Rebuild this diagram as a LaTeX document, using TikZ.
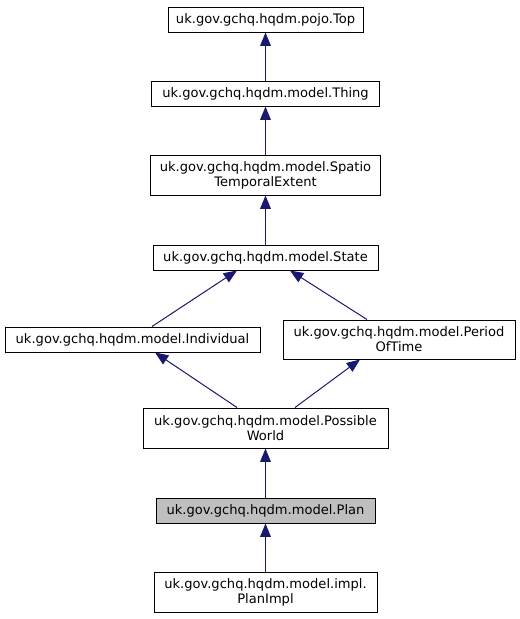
\documentclass[tikz,border=0pt]{standalone}
\usepackage{fontspec}
\setmainfont{DejaVu Sans}
\usetikzlibrary{calc,arrows.meta}
\definecolor{edgeblue}{RGB}{25,25,112}
\definecolor{hlgray}{RGB}{191,191,191}
\tikzset{
  cls/.style={draw=black, line width=0.75pt, fill=white, inner sep=0pt, align=center,
    font=\fontsize{9.8pt}{11.4pt}\selectfont},
  inh/.style={draw=edgeblue, line width=0.75pt,
    -{Triangle[length=10pt,width=8pt,fill=edgeblue]}}
}
\begin{document}
\begin{tikzpicture}[x=0.75pt,y=-0.75pt]
\useasboundingbox (0,0) rectangle (520,619);
\node[cls, minimum width=195*0.75pt, minimum height=25*0.75pt] (top) at (265.5,19.5) {uk.gov.gchq.hqdm.pojo.Top};
\node[cls, minimum width=228*0.75pt, minimum height=25*0.75pt] (thing) at (265.5,93.5) {uk.gov.gchq.hqdm.model.Thing};
\node[cls, minimum width=230*0.75pt, minimum height=40*0.75pt] (ste) at (265.5,175) {uk.gov.gchq.hqdm.model.Spatio\\TemporalExtent};
\node[cls, minimum width=225*0.75pt, minimum height=25*0.75pt] (state) at (265.5,257.5) {uk.gov.gchq.hqdm.model.State};
\node[cls, minimum width=255*0.75pt, minimum height=25*0.75pt] (ind) at (132.5,339.5) {uk.gov.gchq.hqdm.model.Individual};
\node[cls, minimum width=232*0.75pt, minimum height=39*0.75pt] (pot) at (399,339.5) {uk.gov.gchq.hqdm.model.Period\\OfTime};
\node[cls, minimum width=245*0.75pt, minimum height=40*0.75pt] (pw) at (265.5,428) {uk.gov.gchq.hqdm.model.Possible\\World};
\node[cls, fill=hlgray, minimum width=219*0.75pt, minimum height=25*0.75pt] (plan) at (265.5,510.5) {uk.gov.gchq.hqdm.model.Plan};
\node[cls, minimum width=223*0.75pt, minimum height=40*0.75pt] (impl) at (265.5,592) {uk.gov.gchq.hqdm.model.impl.\\PlanImpl};
\draw[inh] (thing.north) -- (top.south);
\draw[inh] (ste.north) -- (thing.south);
\draw[inh] (state.north) -- (ste.south);
\draw[inh] ($(ind.north)+(19.5,0)$) -- ($(state.south)+(-28.5,0)$);
\draw[inh] ($(pot.north)+(-32,0)$) -- ($(state.south)+(24.5,0)$);
\draw[inh] ($(pw.north)+(-28.5,0)$) -- ($(ind.south)+(22.5,0)$);
\draw[inh] ($(pw.north)+(29.5,0)$) -- ($(pot.south)+(-39,0)$);
\draw[inh] (plan.north) -- (pw.south);
\draw[inh] (impl.north) -- (plan.south);
\end{tikzpicture}
\end{document}
